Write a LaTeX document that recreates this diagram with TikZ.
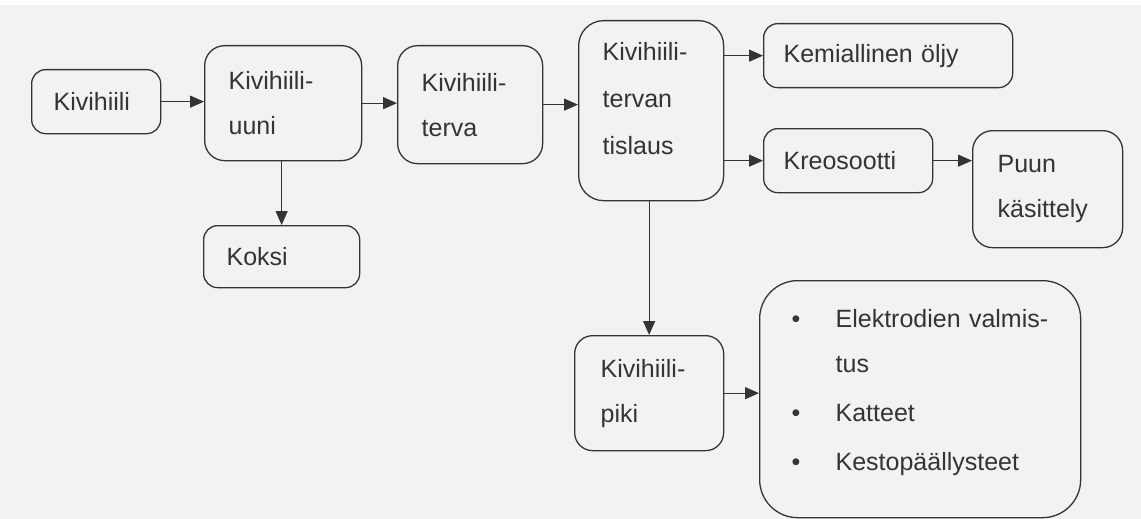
\documentclass[tikz,border=0pt]{standalone}
\usepackage{fontspec}
\setmainfont{Liberation Sans}
\usetikzlibrary{arrows.meta}
\definecolor{ink}{RGB}{52,52,52}
\definecolor{paper}{RGB}{242,242,242}
\tikzset{
  stage/.style={draw=ink, text=ink, line width=1.3pt, rounded corners=#1,
    anchor=north west, align=left, inner xsep=24pt, inner ysep=0pt,
    font=\fontsize{25}{45}\selectfont},
  stage/.default=14pt,
  flow/.style={draw=ink, line width=1.3pt, -{Triangle[length=14pt,width=12pt]}}
}
\newcommand{\itembul}{\makebox[44pt][l]{\textbullet}}
\begin{document}
\begin{tikzpicture}[x=1pt,y=-1pt]
  \useasboundingbox (0,0) rectangle (1141,519);
  \fill[paper] (0,5) rectangle (1141,519);
  \node[stage, text width=85pt, minimum height=64pt, inner xsep=22pt] (kivihiili) at (31,69) {Kivihiili};
  \node[stage=20pt, text width=109pt, minimum height=115pt] (uuni) at (204,45) {Kivihiili-\\uuni};
  \node[stage, text width=110pt, minimum height=62pt, inner xsep=23pt] (koksi) at (203,225) {Koksi};
  \node[stage=20pt, text width=97pt, minimum height=118pt] (terva) at (397,45) {Kivihiili-\\terva};
  \node[stage=25pt, text width=97pt, minimum height=180pt,
    font=\fontsize{25}{47}\selectfont] (tislaus) at (578,20) {Kivihiili-\\tervan\\tislaus\\[-22pt]\mbox{}};
  \node[stage, text width=209pt, minimum height=64pt, inner xsep=20pt] (oljy) at (763,23) {Kemiallinen öljy};
  \node[stage, text width=129pt, minimum height=64pt, inner xsep=20pt] (kreosootti) at (763,128) {Kreosootti};
  \node[stage=20pt, text width=100pt, minimum height=117pt, inner xsep=25pt] (puu) at (972,130) {Puun\\käsittely};
  \node[stage=18pt, text width=97pt, minimum height=115pt, inner xsep=26pt] (piki) at (574,335) {Kivihiili-\\piki};
  \node[stage=38pt, text width=257pt, minimum height=237pt, inner xsep=32pt] (kaytto) at (759,280)
    {\itembul Elektrodien valmis-\\\hspace*{44pt}tus\\[4pt]\itembul Katteet\\[4pt]\itembul Kestopäällysteet\\[-26pt]\mbox{}};
  \draw[flow] (kivihiili.east) -- (kivihiili.east -| uuni.west);
  \draw[flow] (uuni.east) -- (uuni.east -| terva.west);
  \draw[flow] (koksi.north |- uuni.south) -- (koksi.north);
  \draw[flow] (terva.east) -- (terva.east -| tislaus.west);
  \draw[flow] (oljy.west -| tislaus.east) -- (oljy.west);
  \draw[flow] (kreosootti.west -| tislaus.east) -- (kreosootti.west);
  \draw[flow] (kreosootti.east) -- (kreosootti.east -| puu.west);
  \draw[flow] (piki.north |- tislaus.south) -- (piki.north);
  \draw[flow] (piki.east) -- (piki.east -| kaytto.west);
\end{tikzpicture}
\end{document}
